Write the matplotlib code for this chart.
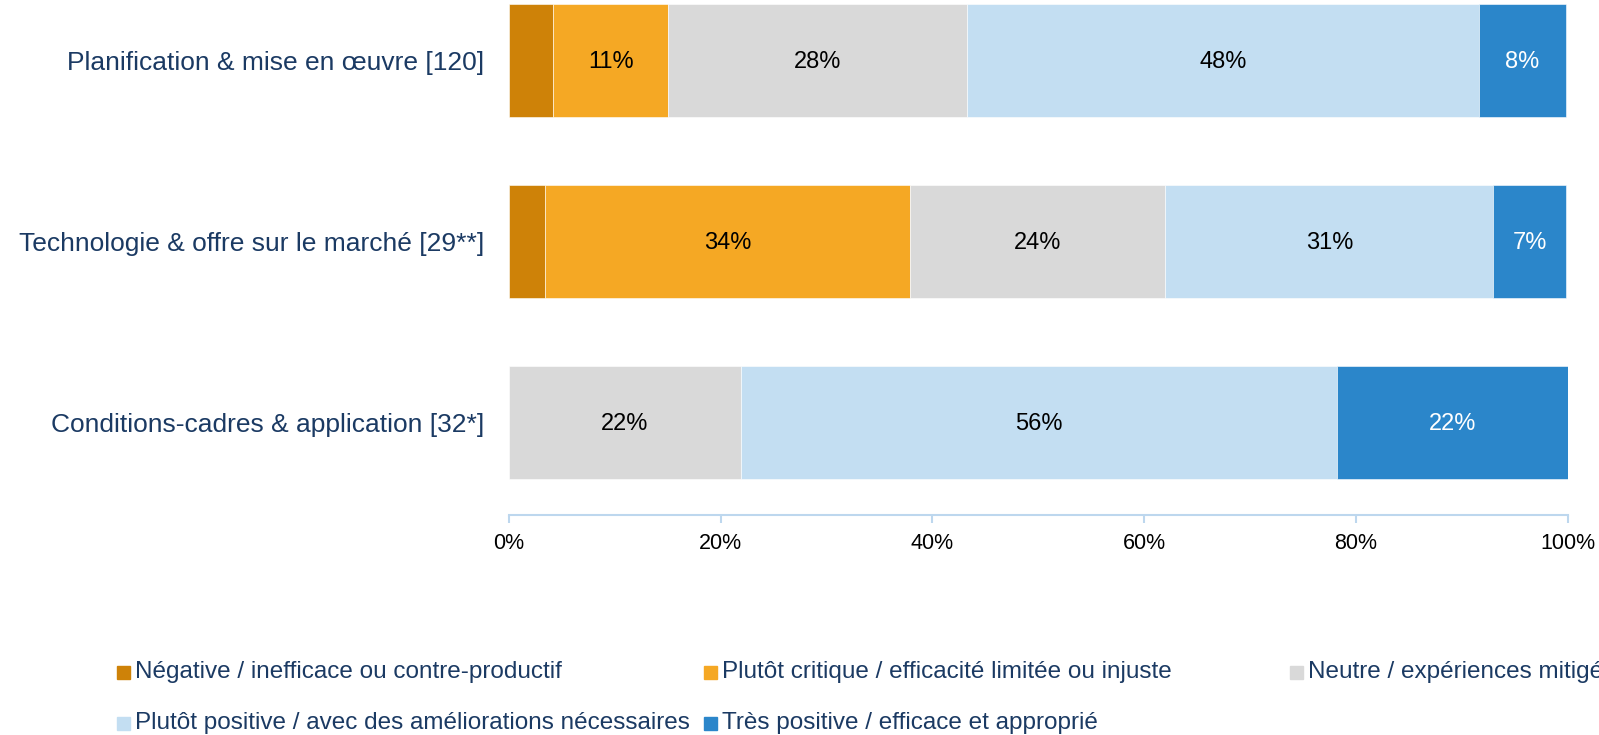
import numpy as np
import matplotlib
matplotlib.use("Agg")
import matplotlib.pyplot as plt
from matplotlib.patches import Rectangle

plt.rcParams['font.family'] = ['Liberation Sans', 'DejaVu Sans']

# categories (top to bottom) and shares in percent
categories = [
    "Planification & mise en œuvre [120]",
    "Technologie & offre sur le marché [29**]",
    "Conditions-cadres & application [32*]",
]
series_names = [
    "Négative / inefficace ou contre-productif",
    "Plutôt critique / efficacité limitée ou injuste",
    "Neutre / expériences mitigées",
    "Plutôt positive / avec des améliorations nécessaires",
    "Très positive / efficace et approprié",
]
negative = [4.2, 3.4, 0.0]
critique = [10.8, 34.5, 0.0]
neutre = [28.3, 24.1, 21.9]
positive = [48.3, 31.0, 56.3]
tres_positive = [8.3, 6.9, 21.9]
tick_values = [0, 20, 40, 60, 80, 100]

colors = ["#CE8208", "#F5A824", "#D9D9D9", "#C3DEF2", "#2B86CA"]
label_colors = ["black", "black", "black", "black", "white"]
navy = "#1B3A63"

fig = plt.figure(figsize=(15.99, 7.35), dpi=100)
ax = fig.add_axes([509 / 1599, 220 / 735, (1567.5 - 509) / 1599, 515 / 735])

y = np.arange(len(categories))
left = np.zeros(len(categories))
all_series = [negative, critique, neutre, positive, tres_positive]
for vals, col, lc in zip(all_series, colors, label_colors):
    vals = np.array(vals)
    ax.barh(y, vals, left=left, height=0.62, color=col,
            edgecolor="white", linewidth=0.4)
    for yi, (l, v) in enumerate(zip(left, vals)):
        if v >= 5:
            ax.text(l + v / 2, yi + 0.01, f"{v:.0f}%", ha="center", va="center",
                    fontsize=17, color=lc)
    left += vals

ax.set_xlim(0, 100)
ax.set_ylim(2.511, -0.334)
ax.set_yticks(y)
ax.set_yticklabels(categories, fontsize=19, color=navy)
ax.tick_params(axis="y", length=0, pad=18)
ax.set_xticks(tick_values)
ax.set_xticklabels([f"{t}%" for t in tick_values], fontsize=15.5)
ax.tick_params(axis="x", length=6, width=1.5, color="#BDD7EE", pad=7)
for s in ["top", "right", "left"]:
    ax.spines[s].set_visible(False)
ax.spines["bottom"].set_color("#BDD7EE")
ax.spines["bottom"].set_linewidth(1.5)

# legend laid out in equal-width columns
col_x = [117, 704, 1290]
row_y = [672, 723]
for i, (name, col) in enumerate(zip(series_names, colors)):
    cx = col_x[i % 3]
    cy = row_y[i // 3]
    fig.patches.append(Rectangle((cx / 1599, 1 - (cy + 6.5) / 735), 13 / 1599, 13 / 735,
                                 transform=fig.transFigure, color=col))
    fig.text((cx + 18) / 1599, 1 - cy / 735, name, fontsize=17.5, color=navy,
             va="center", ha="left")

fig.savefig("out.png", dpi=100)
